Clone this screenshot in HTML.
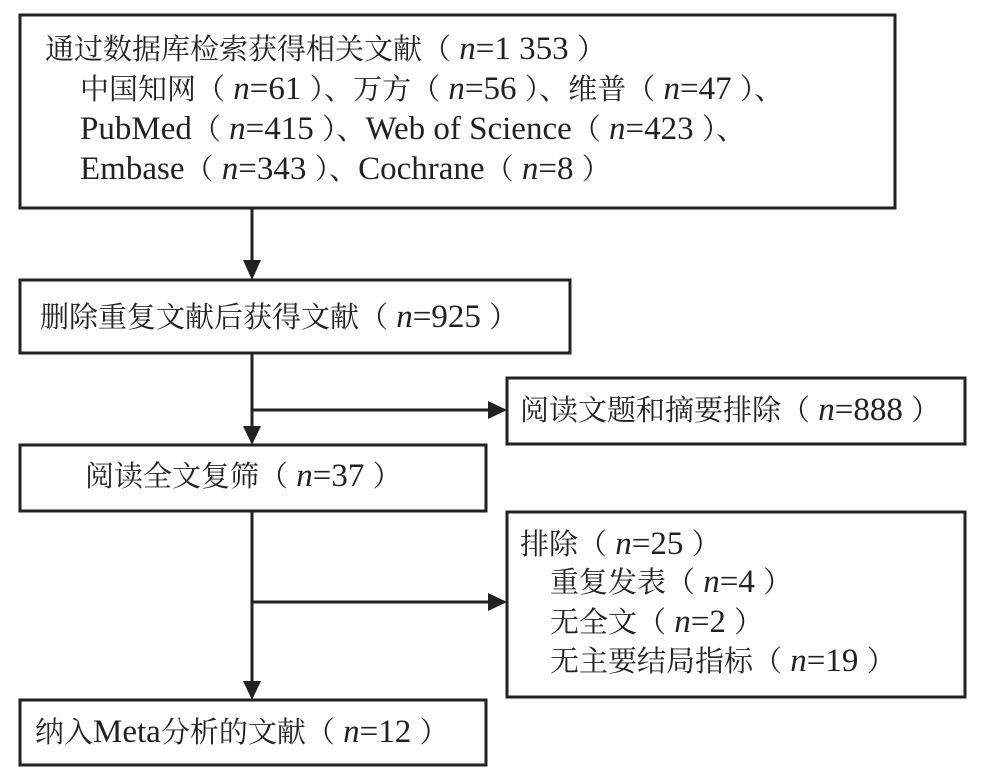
<!DOCTYPE html>
<html><head><meta charset="utf-8"><style>
body{margin:0;background:#fff;width:981px;height:776px;overflow:hidden;position:relative;font-family:"Liberation Serif","Noto Serif CJK SC",serif;color:#222;}
.t{position:absolute;font-size:29px;line-height:40px;white-space:pre;}
.L{font-size:33px;line-height:20px}
i{font-style:italic}
svg{position:absolute;left:0;top:0}
</style></head><body>
<svg width="981" height="776">
<g fill="none" stroke="#222" stroke-width="3">
<rect x="20" y="15" width="875" height="193"/>
<rect x="20" y="280" width="550" height="73"/>
<rect x="507" y="378" width="458" height="66"/>
<rect x="20" y="445" width="466" height="66"/>
<rect x="507" y="512" width="458" height="185"/>
<rect x="20" y="700" width="466" height="65"/>
<line x1="252" y1="208" x2="252" y2="264"/>
<line x1="252" y1="353" x2="252" y2="430"/>
<line x1="252" y1="410" x2="490" y2="410"/>
<line x1="252" y1="511" x2="252" y2="685"/>
<line x1="252" y1="602" x2="490" y2="602"/>
</g>
<g fill="#222">
<polygon points="243,260 261,260 252,280"/>
<polygon points="243,426 261,426 252,445"/>
<polygon points="488,401 488,419 507,410"/>
<polygon points="243,681 261,681 252,700"/>
<polygon points="488,593 488,611 507,602"/>
</g>
</svg>
<div class="t" style="left:45px;top:30px">通过数据库检索获得相关文献（<span class="L"> <i>n</i>=1 353 </span>）</div>
<div class="t" style="left:80px;top:70px">中国知网（<span class="L"> <i>n</i>=61 </span>）、万方（<span class="L"> <i>n</i>=56 </span>）、维普（<span class="L"> <i>n</i>=47 </span>）、</div>
<div class="t" style="left:80px;top:110px"><span class="L">PubMed</span>（<span class="L"> <i>n</i>=415 </span>）、<span class="L">Web of Science</span>（<span class="L"> <i>n</i>=423 </span>）、</div>
<div class="t" style="left:80px;top:150px"><span class="L">Embase</span>（<span class="L"> <i>n</i>=343 </span>）、<span class="L">Cochrane</span>（<span class="L"> <i>n</i>=8 </span>）</div>
<div class="t" style="left:40px;top:298px">删除重复文献后获得文献（<span class="L"> <i>n</i>=925 </span>）</div>
<div class="t" style="left:520px;top:391px">阅读文题和摘要排除（<span class="L"> <i>n</i>=888 </span>）</div>
<div class="t" style="left:85px;top:457px">阅读全文复筛（<span class="L"> <i>n</i>=37 </span>）</div>
<div class="t" style="left:520px;top:525px">排除（<span class="L"> <i>n</i>=25 </span>）</div>
<div class="t" style="left:550px;top:563px">重复发表（<span class="L"> <i>n</i>=4 </span>）</div>
<div class="t" style="left:550px;top:603px">无全文（<span class="L"> <i>n</i>=2 </span>）</div>
<div class="t" style="left:550px;top:642px">无主要结局指标（<span class="L"> <i>n</i>=19 </span>）</div>
<div class="t" style="left:35px;top:713px">纳入<span class="L">Meta</span>分析的文献（<span class="L"> <i>n</i>=12 </span>）</div>
</body></html>
